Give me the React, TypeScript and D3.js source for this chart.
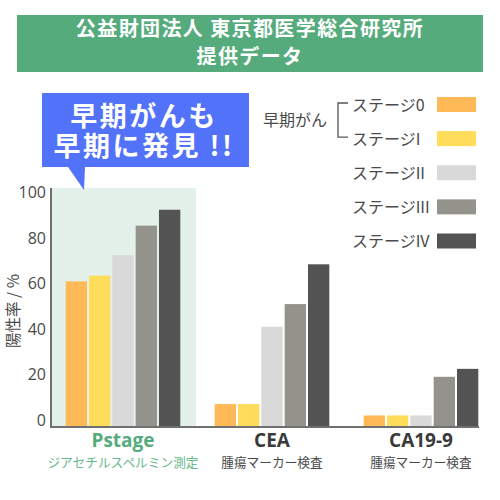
import { useEffect, useRef } from 'react'

import * as d3 from 'd3'

// 検査名
const groups = ['Pstage', 'CEA', 'CA19-9']
const groupSubs = ['ジアセチルスペルミン測定', '腫瘍マーカー検査', '腫瘍マーカー検査']

// ステージ
const stages = ['ステージ0', 'ステージI', 'ステージII', 'ステージIII', 'ステージIV']
const stageColors = ['#ffb957', '#ffdc5a', '#d9d9d9', '#93938b', '#535353']

// 陽性率 (%)
const pstageValues = [61, 63.5, 72.5, 85.5, 92.5]
const ceaValues = [7, 7, 41, 51, 68.5]
const ca199Values = [2, 2, 2, 19, 22.5]
const seriesValues = [pstageValues, ceaValues, ca199Values]

const yTicks = [0, 20, 40, 60, 80, 100]

const titleLines = ['公益財団法人 東京都医学総合研究所', '提供データ']
const calloutLines = ['早期がんも', '早期に発見 !!']
const bracketLabel = '早期がん'
const yTitle = '陽性率 / %'

const FONT = "'Open Sans', 'Noto Sans CJK JP', sans-serif"
const JP = "'Noto Sans CJK JP', 'Open Sans', sans-serif"

const App = () => {
  const ref = useRef<SVGSVGElement>(null)

  useEffect(() => {
    const svg = d3.select(ref.current)
    svg.selectAll('*').remove()

    const width = 500
    const height = 500
    svg.attr('width', width).attr('height', height)

    // タイトル帯
    svg
      .append('rect')
      .attr('x', 17)
      .attr('y', 15)
      .attr('width', 466)
      .attr('height', 57)
      .attr('fill', '#55ab7c')
    svg
      .append('text')
      .attr('text-anchor', 'middle')
      .attr('font-family', JP)
      .attr('font-weight', 'bold')
      .attr('font-size', 20)
      .attr('letter-spacing', 1.4)
      .attr('fill', '#fff')
      .selectAll('tspan')
      .data(titleLines)
      .join('tspan')
      .attr('x', 250)
      .attr('y', (_, i) => 29 + i * 28)
      .attr('dy', '0.36em')
      .text((d) => d)

    // スケール
    const axisLeft = 51
    const axisRight = 479
    const y = d3.scaleLinear().domain([0, 100]).range([420, 192.7])
    const baseline = 427
    const x0 = d3.scalePoint<string>().domain(groups).range([123, 421])
    const x1 = d3
      .scaleBand<string>()
      .domain(stages)
      .range([-57.3, 57.3])
      .paddingInner(0.086)
    const color = d3.scaleOrdinal<string, string>().domain(stages).range(stageColors)

    // Pstage の背景
    svg
      .append('rect')
      .attr('x', axisLeft)
      .attr('y', 188)
      .attr('width', 196 - axisLeft)
      .attr('height', baseline - 188)
      .attr('fill', '#e4f1ea')

    // 棒
    groups.forEach((g, gi) => {
      svg
        .append('g')
        .attr('transform', `translate(${x0(g)},0)`)
        .selectAll('rect')
        .data(seriesValues[gi])
        .join('rect')
        .attr('x', (_, i) => x1(stages[i]) as number)
        .attr('width', x1.bandwidth())
        .attr('y', (d) => y(d))
        .attr('height', (d) => baseline - y(d))
        .attr('fill', (_, i) => color(stages[i]))
    })

    // 軸
    svg
      .append('path')
      .attr('d', `M${axisLeft},188V${baseline}H${axisRight}`)
      .attr('fill', 'none')
      .attr('stroke', '#707070')
      .attr('stroke-width', 2)

    svg
      .selectAll('text.tick')
      .data(yTicks)
      .join('text')
      .attr('class', 'tick')
      .attr('x', 46)
      .attr('y', (d) => y(d))
      .attr('dy', '0.36em')
      .attr('text-anchor', 'end')
      .attr('font-family', FONT)
      .attr('font-size', 16)
      .attr('fill', '#4a4a4a')
      .text((d) => d)

    svg
      .append('text')
      .attr('transform', 'translate(13,311) rotate(-90)')
      .attr('dy', '0.36em')
      .attr('text-anchor', 'middle')
      .attr('font-family', JP)
      .attr('font-size', 15.5)
      .attr('fill', '#4a4a4a')
      .text(yTitle)

    // 検査名ラベル
    svg
      .selectAll('text.group')
      .data(groups)
      .join('text')
      .attr('class', 'group')
      .attr('x', (d) => x0(d) as number)
      .attr('y', 440)
      .attr('dy', '0.36em')
      .attr('text-anchor', 'middle')
      .attr('font-family', FONT)
      .attr('font-weight', 'bold')
      .attr('font-size', 19)
      .attr('fill', (_, i) => (i === 0 ? '#55ab7c' : '#3a3a3a'))
      .text((d) => d)

    svg
      .selectAll('text.sub')
      .data(groupSubs)
      .join('text')
      .attr('class', 'sub')
      .attr('x', (_, i) => x0(groups[i]) as number)
      .attr('y', 462)
      .attr('dy', '0.36em')
      .attr('text-anchor', 'middle')
      .attr('font-family', JP)
      .attr('font-size', 12.7)
      .attr('fill', (_, i) => (i === 0 ? '#66b88a' : '#4a4a4a'))
      .text((d) => d)

    // 吹き出し
    svg
      .append('path')
      .attr('d', 'M42,93H249V167H85L84,190L68,167H42Z')
      .attr('fill', '#5272fa')
    svg
      .append('text')
      .attr('text-anchor', 'middle')
      .attr('font-family', JP)
      .attr('font-weight', 'bold')
      .attr('font-size', 27)
      .attr('letter-spacing', 2.5)
      .attr('fill', '#fff')
      .selectAll('tspan')
      .data(calloutLines)
      .join('tspan')
      .attr('x', 144)
      .attr('y', (_, i) => 116.5 + i * 30)
      .attr('dy', '0.36em')
      .text((d) => d)

    // 凡例
    const ly = d3.scalePoint<string>().domain(stages).range([105, 241.5])
    const legend = svg.append('g')
    legend
      .selectAll('text')
      .data(stages)
      .join('text')
      .attr('x', 352)
      .attr('y', (d) => ly(d) as number)
      .attr('dy', '0.36em')
      .attr('font-family', JP)
      .attr('font-size', 16)
      .attr('fill', '#4a4a4a')
      .text((d) => d)
    legend
      .selectAll('rect')
      .data(stages)
      .join('rect')
      .attr('x', 437)
      .attr('y', (d) => (ly(d) as number) - 8)
      .attr('width', 39)
      .attr('height', 15)
      .attr('fill', (d) => color(d))

    // 早期がんの括弧
    const b0 = (ly(stages[0]) as number) - 2
    const b1 = (ly(stages[1]) as number) - 2
    legend
      .append('path')
      .attr('d', `M348,${b0}H338V${b1}H348`)
      .attr('fill', 'none')
      .attr('stroke', '#555')
      .attr('stroke-width', 1.3)
    legend
      .append('text')
      .attr('x', 263)
      .attr('y', (b0 + b1) / 2)
      .attr('dy', '0.36em')
      .attr('font-family', JP)
      .attr('font-size', 16)
      .attr('fill', '#4a4a4a')
      .text(bracketLabel)
  }, [])

  return (
    <svg
      ref={ref}
      style={{ position: 'absolute', left: 0, top: 0, background: '#fff' }}
    />
  )
}

export default App
